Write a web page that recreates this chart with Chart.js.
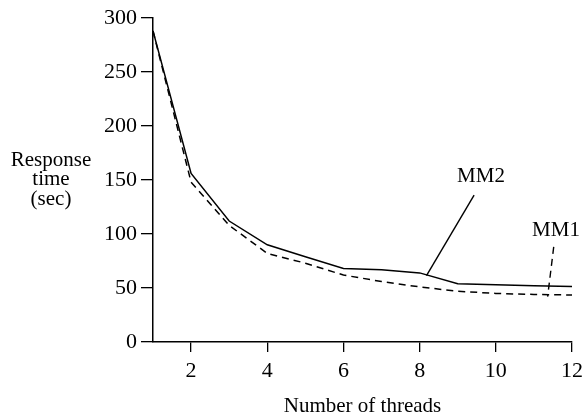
<!DOCTYPE html>
<html lang="en">
<head>
  <meta charset="UTF-8">
  <title>Response time vs number of threads</title>
  <script src="https://cdn.jsdelivr.net/npm/chart.js"></script>
  <style>
    html, body { margin: 0; padding: 0; background: #fff; }
    #wrap { width: 584px; height: 416px; }
  </style>
</head>
<body>
  <div id="wrap"><canvas id="respChart" width="584" height="416"></canvas></div>
  <script>
    // data
    const threads = [1, 2, 3, 4, 5, 6, 7, 8, 9, 10, 11, 12];
    const mm2 = [288, 156, 112, 90, 79, 68, 67, 64, 54, 53, 52, 51.5];
    const mm1 = [288, 148, 108, 82, 73, 62, 56, 51, 47, 45, 44, 43.5];
    const xTicks = [2, 4, 6, 8, 10, 12];
    const yTicks = [0, 50, 100, 150, 200, 250, 300];
    const yTitle = ['Response', 'time', '(sec)'];
    const xTitle = 'Number of threads';

    // series labels with their leader lines, in data units
    const labelNames = ['MM2', 'MM1'];
    const labelAt = [[9.61, 153.5], [11.58, 103.5]];
    const leaderFrom = [[9.43, 136], [11.52, 88]];
    const leaderTo = [[8.18, 61.5], [11.36, 42]];

    const FONT = '"Liberation Serif", "DejaVu Serif", serif';

    const extras = {
      id: 'extras',
      afterDraw(chart) {
        const ctx = chart.ctx;
        const xs = chart.scales.x, ys = chart.scales.y;
        ctx.save();
        ctx.fillStyle = '#000';
        ctx.textAlign = 'center';
        ctx.textBaseline = 'middle';
        ctx.font = '21px ' + FONT;
        yTitle.forEach((t, i) => ctx.fillText(t, 51, 160 + i * 19.5));
        ctx.fillText(xTitle, (xs.left + xs.right) / 2, 406);

        labelNames.forEach((name, i) => {
          ctx.fillText(name, xs.getPixelForValue(labelAt[i][0]), ys.getPixelForValue(labelAt[i][1]));
          ctx.beginPath();
          ctx.strokeStyle = '#000';
          ctx.lineWidth = 1.4;
          ctx.setLineDash(i === 1 ? [7, 5] : []);
          ctx.moveTo(xs.getPixelForValue(leaderFrom[i][0]), ys.getPixelForValue(leaderFrom[i][1]));
          ctx.lineTo(xs.getPixelForValue(leaderTo[i][0]), ys.getPixelForValue(leaderTo[i][1]));
          ctx.stroke();
        });
        ctx.restore();
      }
    };

    const ctx = document.getElementById('respChart').getContext('2d');
    new Chart(ctx, {
      type: 'line',
      data: {
        datasets: [{
          label: 'MM2',
          data: threads.map((t, i) => ({ x: t, y: mm2[i] })),
          borderColor: '#000',
          borderWidth: 1.5,
          pointRadius: 0,
          tension: 0
        }, {
          label: 'MM1',
          data: threads.map((t, i) => ({ x: t, y: mm1[i] })),
          borderColor: '#000',
          borderWidth: 1.5,
          borderDash: [7, 5],
          pointRadius: 0,
          tension: 0
        }]
      },
      options: {
        responsive: false,
        animation: false,
        layout: { autoPadding: false, padding: { top: 18, right: 12, left: 0, bottom: 0 } },
        plugins: {
          legend: { display: false },
          tooltip: { enabled: false }
        },
        scales: {
          x: {
            type: 'linear',
            min: 1,
            max: 12,
            afterBuildTicks: s => { s.ticks = xTicks.map(v => ({ value: v })); },
            afterFit: s => { s.height = 74; s.paddingLeft = 0; s.paddingRight = 0; },
            grid: { drawOnChartArea: false, drawTicks: true, tickLength: 10, color: '#000', lineWidth: 1.3 },
            border: { display: true, color: '#000', width: 1.5 },
            ticks: { color: '#000', font: { family: FONT, size: 22 }, padding: 6, maxRotation: 0 }
          },
          y: {
            min: 0,
            max: 300,
            afterBuildTicks: s => { s.ticks = yTicks.map(v => ({ value: v })); },
            afterFit: s => { s.width = 153; s.paddingTop = 0; s.paddingBottom = 0; },
            grid: { drawOnChartArea: false, drawTicks: true, tickLength: 12, color: '#000', lineWidth: 1.3 },
            border: { display: true, color: '#000', width: 1.5 },
            ticks: { color: '#000', font: { family: FONT, size: 22 }, padding: 4 }
          }
        }
      },
      plugins: [extras]
    });
  </script>
</body>
</html>
